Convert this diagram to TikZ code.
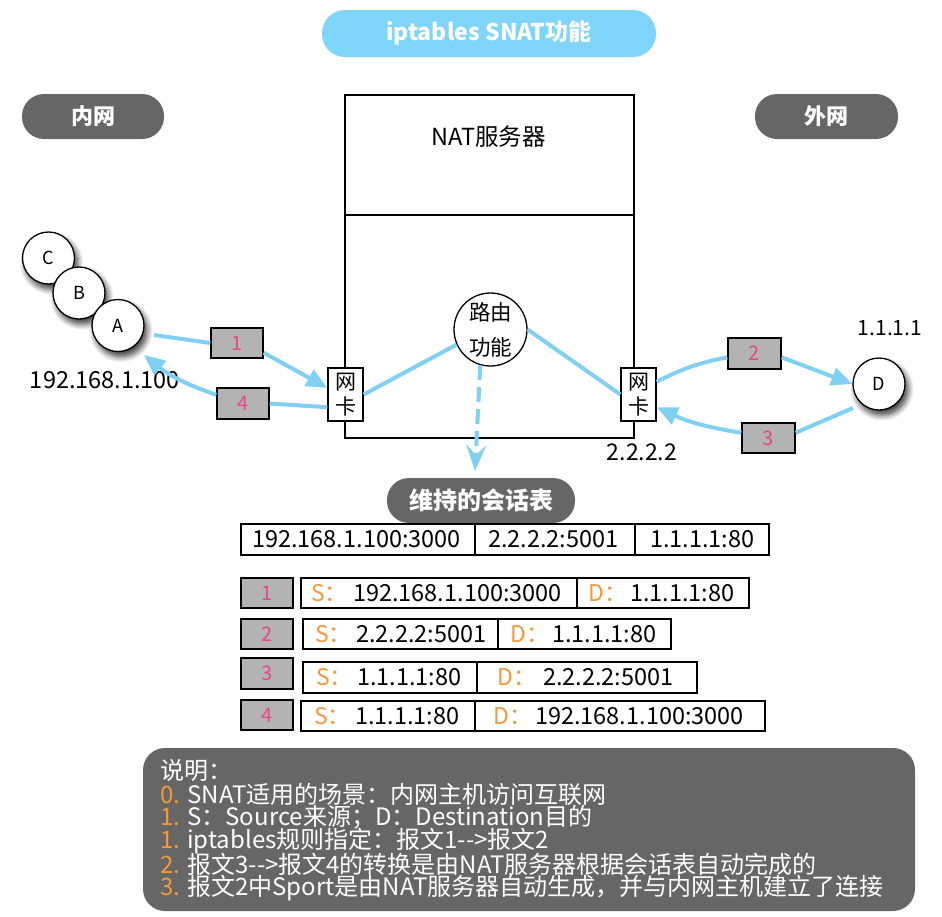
\documentclass[tikz,border=0pt]{standalone}
\usepackage{fontspec}
\newfontfamily\cjk{Noto Sans CJK SC}
\usetikzlibrary{arrows.meta,shadows.blur}
\definecolor{titleblue}{HTML}{7FD5F9}
\definecolor{pillgray}{HTML}{666666}
\definecolor{taggray}{HTML}{B3B3B3}
\definecolor{numpink}{HTML}{E8458B}
\definecolor{numorange}{HTML}{F29A38}
\definecolor{flowblue}{HTML}{80D0F4}
\newcommand{\myfs}[1]{\cjk\fontsize{#1}{#1}\selectfont}
\begin{document}
\begin{tikzpicture}[x=1pt,y=-1pt,
  pill/.style={rounded corners=22pt, fill=pillgray, text=white, inner sep=0pt, font=\myfs{22}\bfseries},
  tag/.style={draw, line width=1.3pt, fill=taggray, minimum width=52pt, minimum height=30pt, inner sep=0pt, text=numpink, font=\myfs{20}},
  cell/.style={draw, line width=1.3pt, inner sep=0pt},
  txt/.style={inner sep=0pt, font=\myfs{23}},
  sd/.style={inner sep=0pt, font=\myfs{23}, text=numorange, anchor=west},
  val/.style={inner sep=0pt, font=\myfs{23.5}, anchor=west},
  host/.style={circle, draw, line width=1.3pt, fill=white, minimum size=52pt, inner sep=0pt, font=\myfs{18},
    blur shadow={shadow xshift=3pt, shadow yshift=-5pt, shadow blur steps=8, shadow blur radius=6pt, shadow opacity=80}},
  nic/.style={draw, fill=white, line width=1.3pt, minimum width=35pt, minimum height=53pt, inner sep=0pt, align=center, font=\cjk\fontsize{21}{25}\selectfont},
  flow/.style={draw=flowblue, line width=4pt},
  flowarrow/.style={flow, -{Triangle[length=21pt,width=18pt]}},
  note/.style={inner sep=0pt, anchor=west, text=white, font=\myfs{24}},
]
\useasboundingbox (0,0) rectangle (942,916);

% title and side labels
\node[pill, fill=titleblue, minimum width=334pt, minimum height=47pt, rounded corners=23pt, font=\myfs{23}\bfseries] (title) at (489,33.5) {iptables SNAT功能};
\node[pill, minimum width=142pt, minimum height=45pt] (inner) at (93,116.5) {内网};
\node[pill, minimum width=143pt, minimum height=45pt] (outer) at (826.5,116.5) {外网};

% NAT server
\node[draw, line width=1.3pt, minimum width=289pt, minimum height=343pt, inner sep=0pt] (nat) at (489.5,266.5) {};
\coordinate (divy) at (0,215);
\draw[line width=1.3pt] (nat.west |- divy) -- (nat.east |- divy);
\node[txt, font=\myfs{23.5}] (natlabel) at (488.5,137) {NAT服务器};
\node[circle, draw, line width=1.3pt, fill=white, minimum size=73pt, inner sep=0pt, align=center, font=\cjk\fontsize{21.5}{35}\selectfont] (route) at (490.5,329.5) {路由\\功能};
\node[nic] (lnic) at (345.5,394.5) {网\\卡};
\node[nic] (rnic) at (638.5,394.5) {网\\卡};

% hosts
\node[host] (C) at (48.5,258) {C};
\node[host] (B) at (79,293) {B};
\node[host] (A) at (118,325.5) {A};
\node[host] (D) at (879,384) {D};

\node[txt, font=\myfs{23.5}] (ipa) at (105,380) {192.168.1.100};
\node[txt, font=\myfs{21}] (ipd) at (890,328) {1.1.1.1};
\node[txt] (ipnat) at (642,452) {2.2.2.2};

% packet tags
\node[tag] (t1) at (237,343) {1};
\node[tag, minimum height=31pt] (t4) at (243,403.5) {4};
\node[tag, minimum width=53pt, minimum height=31pt] (t2) at (754.5,353.5) {2};
\node[tag, minimum width=53pt] (t3) at (768.5,438) {3};

% flows
\coordinate (a1s) at (154,335);
\coordinate (a4e) at (144,355);
\coordinate (d3s) at (853,408);
\coordinate (dashend) at (475,471);
\draw[flow] (a1s) -- (t1.west);
\draw[flowarrow] (t1.-20) -- (lnic.160);
\draw[flow] (lnic.215) -- (t4.east);
\draw[flowarrow] (t4.162) to[bend left=10] (a4e);
\draw[flow] (lnic.east) -- (route.204);
\draw[flow] (route.east) -- (rnic.west);
\draw[flow] (rnic.35) to[bend left=8] (t2.188);
\draw[flowarrow] (t2.-8) -- (D.west);
\draw[flow] (d3s) -- (t3.11);
\draw[flowarrow] (t3.169) to[bend left=8] (rnic.-35);
\draw[flow, dash pattern=on 15pt off 7pt, -{Stealth[length=26pt,width=20pt,inset=10pt]}] (route.-106) -- (dashend);

% session table
\node[pill, minimum width=188pt, minimum height=45pt, font=\myfs{24}\bfseries] (sess) at (481,500.5) {维持的会话表};
\node[cell, minimum width=234pt, minimum height=31pt] (h1) at (358,539.5) {};
\node[cell, minimum width=160pt, minimum height=31pt] (h2) at (555,539.5) {};
\node[cell, minimum width=134pt, minimum height=31pt] (h3) at (702,539.5) {};
\node[val] (h1t) at (252,539.5) {192.168.1.100:3000};
\node[val] (h2t) at (488,539.5) {2.2.2.2:5001};
\node[val] (h3t) at (650,539.5) {1.1.1.1:80};

% row 1
\node[tag] (g1) at (267,593) {1};
\node[cell, minimum width=276pt, minimum height=30pt] (r1a) at (439,593) {};
\node[cell, minimum width=172pt, minimum height=30pt] (r1b) at (663,593) {};
\node[sd] (r1s) at (311,593) {S：};
\node[val] (r1v) at (353,593) {192.168.1.100:3000};
\node[sd] (r1d) at (588,593) {D：};
\node[val] (r1w) at (630,593) {1.1.1.1:80};

% row 2
\node[tag] (g2) at (267,634) {2};
\node[cell, minimum width=195pt, minimum height=30pt] (r2a) at (400.5,634) {};
\node[cell, minimum width=173pt, minimum height=30pt] (r2b) at (584.5,634) {};
\node[sd] (r2s) at (315,634) {S：};
\node[val] (r2v) at (356,634) {2.2.2.2:5001};
\node[sd] (r2d) at (510,634) {D：};
\node[val] (r2w) at (552,634) {1.1.1.1:80};

% row 3
\node[tag, minimum height=31pt] (g3) at (267,673.5) {3};
\node[cell, minimum width=174pt, minimum height=31pt] (r3a) at (390,677.5) {};
\node[cell, minimum width=220pt, minimum height=31pt] (r3b) at (587,677.5) {};
\node[sd] (r3s) at (316,677.5) {S：};
\node[val] (r3v) at (357,677.5) {1.1.1.1:80};
\node[sd] (r3d) at (497,677.5) {D：};
\node[val] (r3w) at (543,677.5) {2.2.2.2:5001};

% row 4
\node[tag] (g4) at (267,715) {4};
\node[cell, minimum width=174pt, minimum height=30pt] (r4a) at (388,716) {};
\node[cell, minimum width=290pt, minimum height=30pt] (r4b) at (620,716) {};
\node[sd] (r4s) at (314,716) {S：};
\node[val] (r4v) at (355,716) {1.1.1.1:80};
\node[sd] (r4d) at (493,716) {D：};
\node[val] (r4w) at (535,716) {192.168.1.100:3000};

% note
\node[fill=pillgray, rounded corners=22pt, minimum width=772pt, minimum height=163pt, inner sep=0pt] (notebox) at (529,829.5) {};
\node[note] (n0) at (160,770) {说明：};
\node[note] (n1) at (160,794) {\textcolor{numorange}{0.} SNAT适用的场景：内网主机访问互联网};
\node[note] (n2) at (160,817.5) {\textcolor{numorange}{1.} S：Source来源；D：Destination目的};
\node[note] (n3) at (160,841) {\textcolor{numorange}{1.} iptables规则指定：报文1-->报文2};
\node[note] (n4) at (160,864.5) {\textcolor{numorange}{2.} 报文3-->报文4的转换是由NAT服务器根据会话表自动完成的};
\node[note] (n5) at (160,888) {\textcolor{numorange}{3.} 报文2中Sport是由NAT服务器自动生成，并与内网主机建立了连接};
\end{tikzpicture}
\end{document}
